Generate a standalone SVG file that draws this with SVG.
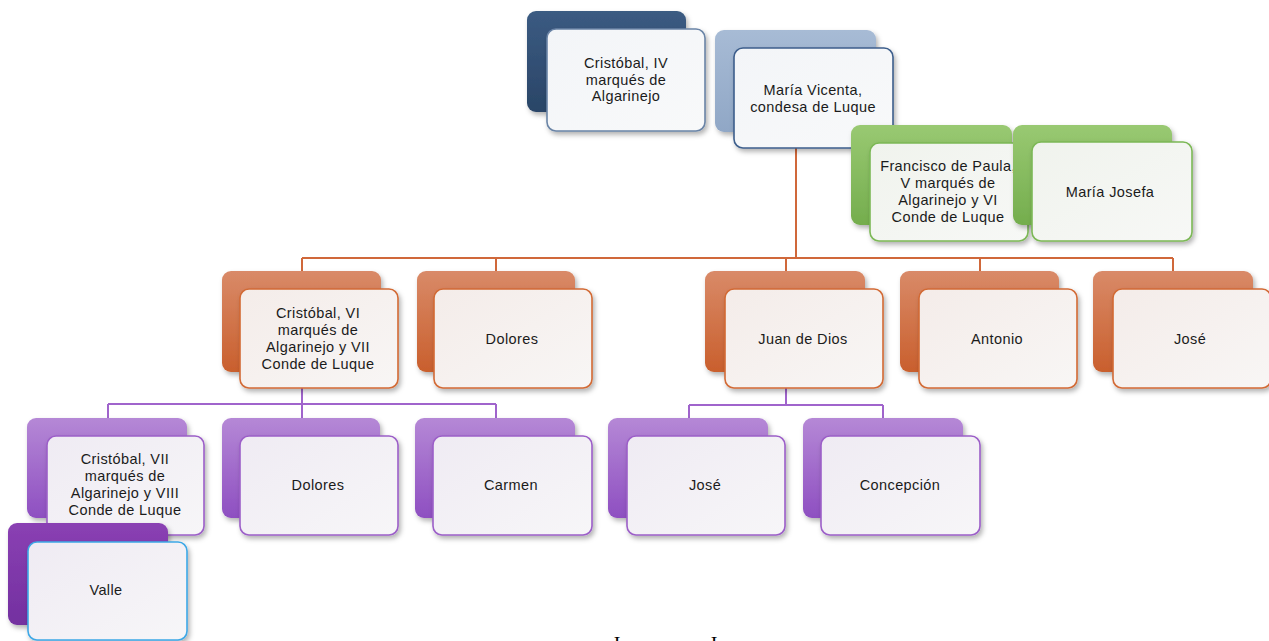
<svg xmlns="http://www.w3.org/2000/svg" width="1269" height="641" viewBox="0 0 1269 641">
<style>
text{font-family:"Liberation Sans",Arial,sans-serif;font-size:14.5px;letter-spacing:0.4px;fill:#1b1b1b;text-anchor:middle}
.cn{fill:none;stroke-width:2}
.co{stroke:#d0683a}
.cp{stroke:#a064cc}
.bk{filter:url(#sh)}
.fr{filter:url(#sh);stroke-width:1.6}
.navy{fill:url(#gNavy)}
.steel{fill:url(#gSteel)}
.green{fill:url(#gGreen)}
.orange{fill:url(#gOrange)}
.purple{fill:url(#gPurple)}
.dpurple{fill:url(#gDPurple)}
.fnavy{fill:url(#fBlue);stroke:#6a84a6}
.fsteel{fill:url(#fBlue);stroke:#3d5e8c}
.fgreen{fill:url(#fGreen);stroke:#7cb856}
.forange{fill:url(#fOrange);stroke:#d26a35}
.fpurple{fill:url(#fPurple);stroke:#9c5fc8}
.fblue{fill:url(#fPurple);stroke:#3ea8e6}
.cap{font-family:"Liberation Serif","Times New Roman",serif;font-size:20px;letter-spacing:0;fill:#000}
</style>
<defs>
<filter id="sh" x="-10%" y="-10%" width="125%" height="130%">
<feDropShadow dx="2" dy="3" stdDeviation="2.5" flood-color="#000" flood-opacity="0.3"/>
</filter>
<linearGradient id="gNavy" x1="0" y1="0" x2="0" y2="1"><stop offset="0" stop-color="#3b5b82"/><stop offset="1" stop-color="#2a4567"/></linearGradient>
<linearGradient id="gSteel" x1="0" y1="0" x2="0" y2="1"><stop offset="0" stop-color="#a7bbd5"/><stop offset="1" stop-color="#90a7c6"/></linearGradient>
<linearGradient id="gGreen" x1="0" y1="0" x2="0" y2="1"><stop offset="0" stop-color="#99c972"/><stop offset="1" stop-color="#74ad4d"/></linearGradient>
<linearGradient id="gOrange" x1="0" y1="0" x2="0" y2="1"><stop offset="0" stop-color="#d98a68"/><stop offset="1" stop-color="#c95f2d"/></linearGradient>
<linearGradient id="gPurple" x1="0" y1="0" x2="0" y2="1"><stop offset="0" stop-color="#b588d6"/><stop offset="1" stop-color="#8e4fc1"/></linearGradient>
<linearGradient id="gDPurple" x1="0" y1="0" x2="0" y2="1"><stop offset="0" stop-color="#8a40b3"/><stop offset="1" stop-color="#7330a0"/></linearGradient>
<linearGradient id="fBlue" x1="0" y1="0" x2="1" y2="1"><stop offset="0" stop-color="#f3f5f8"/><stop offset="1" stop-color="#f8f9fa"/></linearGradient>
<linearGradient id="fGreen" x1="0" y1="0" x2="1" y2="1"><stop offset="0" stop-color="#f0f3ed"/><stop offset="1" stop-color="#f7f8f6"/></linearGradient>
<linearGradient id="fOrange" x1="0" y1="0" x2="1" y2="1"><stop offset="0" stop-color="#f4ece9"/><stop offset="1" stop-color="#f8f6f5"/></linearGradient>
<linearGradient id="fPurple" x1="0" y1="0" x2="1" y2="1"><stop offset="0" stop-color="#efebf3"/><stop offset="1" stop-color="#f7f6f8"/></linearGradient>
</defs>
<rect width="1269" height="641" fill="#ffffff"/>

<g id="connectors">
<path class="cn co" d="M796 132V258M302 258H1173M302 258V271M496 258V271M786 258V271M980 258V271M1173 258V271"/>
<path class="cn cp" d="M302 372V418M108 404H496M108 404V418M496 404V418"/>
<path class="cn cp" d="M786 372V405M689 405H883M689 405V418M883 405V418"/>
</g>

<g id="n-cristobal-iv">
<rect class="bk navy" x="527" y="11" width="159" height="101" rx="9"/>
<rect class="fr fnavy" x="547" y="29" width="158" height="102" rx="9"/>
<text x="626" y="68">Cristóbal, IV</text>
<text x="626" y="85">marqués de</text>
<text x="626" y="101">Algarinejo</text>
</g>

<g id="n-maria-vicenta">
<rect class="bk steel" x="715" y="30" width="161" height="102" rx="9"/>
<rect class="fr fsteel" x="734" y="48" width="159" height="100" rx="9"/>
<text x="813" y="95">María Vicenta,</text>
<text x="813" y="112">condesa de Luque</text>
</g>

<g id="n-francisco">
<rect class="bk green" x="851" y="125" width="161" height="100" rx="9"/>
<rect class="fr fgreen" x="870" y="143" width="158" height="98" rx="9"/>
<text x="948" y="171">Francisco de Paula,</text>
<text x="948" y="188">V marqués de</text>
<text x="948" y="205">Algarinejo y VI</text>
<text x="948" y="222">Conde de Luque</text>
</g>

<g id="n-maria-josefa">
<rect class="bk green" x="1013" y="125" width="159" height="100" rx="9"/>
<rect class="fr fgreen" x="1032" y="142" width="160" height="99" rx="9"/>
<text x="1110" y="197">María Josefa</text>
</g>

<g id="n-cristobal-vi">
<rect class="bk orange" x="222" y="271" width="159" height="101" rx="9"/>
<rect class="fr forange" x="240" y="289" width="158" height="99" rx="9"/>
<text x="318" y="318">Cristóbal, VI</text>
<text x="318" y="335">marqués de</text>
<text x="318" y="352">Algarinejo y VII</text>
<text x="318" y="369">Conde de Luque</text>
</g>

<g id="n-dolores-1">
<rect class="bk orange" x="417" y="271" width="158" height="101" rx="9"/>
<rect class="fr forange" x="434" y="289" width="158" height="99" rx="9"/>
<text x="512" y="344">Dolores</text>
</g>

<g id="n-juan-de-dios">
<rect class="bk orange" x="705" y="271" width="160" height="101" rx="9"/>
<rect class="fr forange" x="725" y="289" width="158" height="99" rx="9"/>
<text x="803" y="344">Juan de Dios</text>
</g>

<g id="n-antonio">
<rect class="bk orange" x="900" y="271" width="159" height="101" rx="9"/>
<rect class="fr forange" x="919" y="289" width="158" height="99" rx="9"/>
<text x="997" y="344">Antonio</text>
</g>

<g id="n-jose-1">
<rect class="bk orange" x="1093" y="271" width="160" height="101" rx="9"/>
<rect class="fr forange" x="1113" y="289" width="158" height="99" rx="9"/>
<text x="1190" y="344">José</text>
</g>

<g id="n-cristobal-vii">
<rect class="bk purple" x="27" y="418" width="160" height="100" rx="9"/>
<rect class="fr fpurple" x="47" y="436" width="157" height="99" rx="9"/>
<text x="125" y="464">Cristóbal, VII</text>
<text x="125" y="481">marqués de</text>
<text x="125" y="498">Algarinejo y VIII</text>
<text x="125" y="515">Conde de Luque</text>
</g>

<g id="n-valle">
<rect class="bk dpurple" x="8" y="523" width="160" height="102" rx="9"/>
<rect class="fr fblue" x="28" y="542" width="159" height="98" rx="9"/>
<text x="106" y="595">Valle</text>
</g>

<g id="n-dolores-2">
<rect class="bk purple" x="222" y="418" width="158" height="100" rx="9"/>
<rect class="fr fpurple" x="240" y="436" width="158" height="99" rx="9"/>
<text x="318" y="490">Dolores</text>
</g>

<g id="n-carmen">
<rect class="bk purple" x="415" y="418" width="160" height="100" rx="9"/>
<rect class="fr fpurple" x="433" y="436" width="159" height="99" rx="9"/>
<text x="511" y="490">Carmen</text>
</g>

<g id="n-jose-2">
<rect class="bk purple" x="608" y="418" width="160" height="100" rx="9"/>
<rect class="fr fpurple" x="627" y="436" width="158" height="99" rx="9"/>
<text x="705" y="490">José</text>
</g>

<g id="n-concepcion">
<rect class="bk purple" x="803" y="418" width="160" height="100" rx="9"/>
<rect class="fr fpurple" x="821" y="436" width="159" height="99" rx="9"/>
<text x="900" y="490">Concepción</text>
</g>

<g id="caption">
<text class="cap" x="617" y="651">I</text>
<text class="cap" x="714" y="651">I</text>
</g>
</svg>
